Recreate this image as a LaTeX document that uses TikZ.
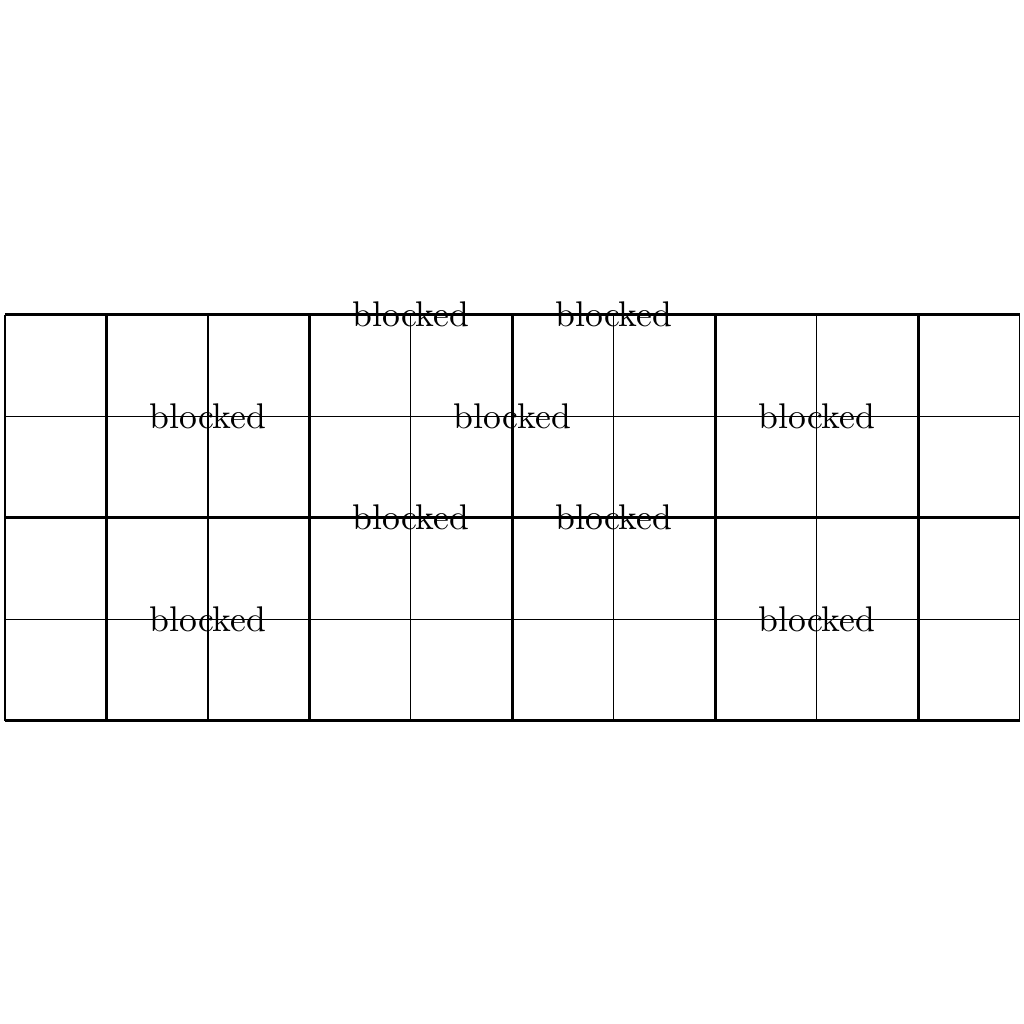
\documentclass[tikz,border=0pt]{standalone}
\begin{document}
\begin{tikzpicture}[x=1cm,y=1cm,
  thinline/.style={line width=0.3pt},
  thickline/.style={line width=0.8pt},
  blk/.style={inner sep=0pt}]
\useasboundingbox (-0.049,-2.985) rectangle (10.04,7.10);
\draw[thinline] (0,0) grid (10,4);
\foreach \x in {1,3,5,7,9} \draw[thickline] (\x,0) -- (\x,4);
\foreach \y in {0,2,4} \draw[thickline] (0,\y) -- (10,\y);
\node[blk] (b1) at (2,3) {blocked};
\node[blk] (b2) at (2,1) {blocked};
\node[blk] (b3) at (4,4) {blocked};
\node[blk] (b4) at (6,4) {blocked};
\node[blk] (b5) at (5,3) {blocked};
\node[blk] (b6) at (4,2) {blocked};
\node[blk] (b7) at (6,2) {blocked};
\node[blk] (b8) at (8,3) {blocked};
\node[blk] (b9) at (8,1) {blocked};
\end{tikzpicture}
\end{document}
